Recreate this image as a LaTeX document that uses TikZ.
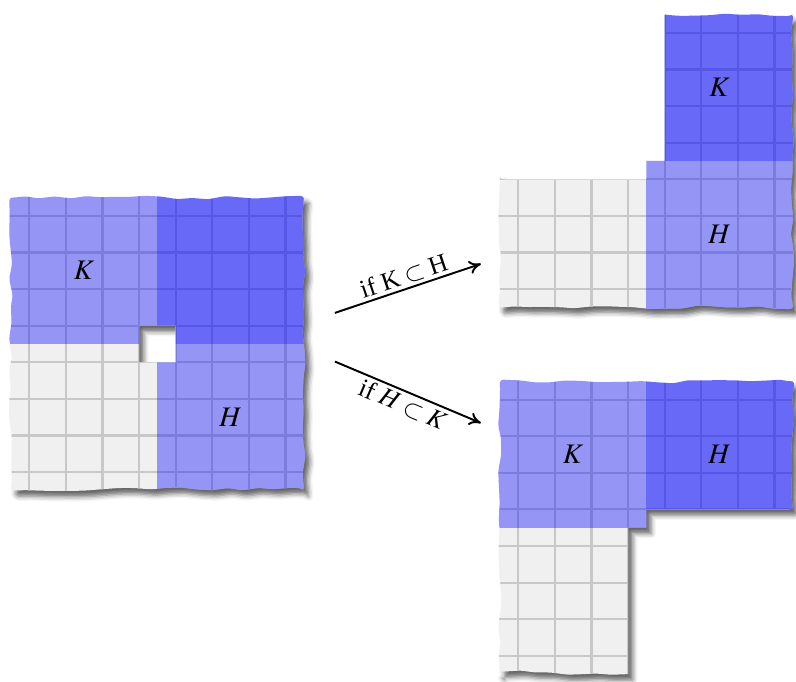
\documentclass[tikz,border=0pt]{standalone}
\usepackage{amsmath,amssymb}
\usepackage{mathptmx}
\usepackage{fontspec}
\setmainfont{Liberation Serif}
\usepackage{xcolor}
\usepackage{tikz}
\usetikzlibrary{arrows.meta, decorations.pathmorphing, shadows.blur}
\definecolor{paper}{RGB}{240,240,240}
\definecolor{gridgray}{RGB}{200,200,200}
\definecolor{setblue}{RGB}{0,0,255}
\tikzset{
  torn/.style={decoration={random steps, segment length=0.42cm, amplitude=0.055cm}},
  sheet fill/.style={fill=paper, rounded corners=2.5pt,
    blur shadow={shadow xshift=0.13cm, shadow yshift=-0.16cm,
      shadow blur radius=0.13cm, shadow opacity=60}},
  grid line/.style={draw=gridgray, line width=1.6pt},
  set fill/.style={fill=setblue, fill opacity=0.375},
  both fill/.style={fill=setblue, fill opacity=0.5625},
  set label/.style={font=\fontsize{22}{25}\selectfont},
  implies/.style={-{To[length=3.2mm, width=3.6mm]}, line width=1.5pt},
  implies label/.style={font=\fontsize{20}{23}\selectfont, sloped},
}
% torn sheet: #1 origin, #2 outline, #3 seed
\newcommand{\tornsheet}[3]{%
  \begin{scope}[shift={#1}, torn]
    \pgfmathsetseed{#3}
    \path[sheet fill] #2;
    \begin{scope}
      \pgfmathsetseed{#3}
      \clip[rounded corners=2.5pt] #2;
      \draw[grid line, shift={(0.5,0.5)}] (-5,-5) grid (4,4);
      \path[set fill] (-4.5,0) rectangle (0,4.5);
      \path[set fill] (0,-4.5) rectangle (4.5,0);
      \path[both fill] (0,0) rectangle (4.5,4.5);
    \end{scope}
  \end{scope}}

\begin{document}
\begin{tikzpicture}
  \useasboundingbox (-4.301,-9.235) rectangle (17.448,9.399);

  % the overlap with the hole
  \tornsheet{(0,0)}{(-4,-4) decorate{-- (4,-4) -- (4,4) -- (-4,4) -- (-4,-4)} -- cycle
    (-0.5,-0.5) [sharp corners] -- (-0.5,0.5) -- (0.5,0.5) -- (0.5,-0.5) -- cycle}{11}
  \node[set label] (kmain) at (-2,2) {$K$};
  \node[set label] (hmain) at (2,-2) {$H$};

  % K inside H
  \tornsheet{(13.36,5)}{(-4,-0.5) [sharp corners] -- (0,-0.5) -- (0,0) -- (0.5,0) -- (0.5,4)
    [rounded corners=2.5pt] decorate{-- (4,4) -- (4,-4) -- (-4,-4) -- (-4,-0.5)} -- cycle}{23}
  \node[set label] (kup) at (15.36,7) {$K$};
  \node[set label] (hup) at (15.36,3) {$H$};

  % H inside K
  \tornsheet{(13.36,-5.02)}{(4,0.5) [sharp corners] -- (0,0.5) -- (0,0) -- (-0.5,0) -- (-0.5,-4)
    [rounded corners=2.5pt] decorate{-- (-4,-4) -- (-4,4) -- (4,4) -- (4,0.5)} -- cycle}{37}
  \node[set label] (kdown) at (11.36,-3.02) {$K$};
  \node[set label] (hdown) at (15.36,-3.02) {$H$};

  % arrows
  \coordinate (upfrom) at (4.85,0.85);
  \coordinate (upto) at (8.84,2.19);
  \coordinate (downfrom) at (4.85,-0.48);
  \coordinate (downto) at (8.84,-2.16);
  \draw[implies] (upfrom) -- node[implies label, above, inner sep=2pt] {if K${}\subset{}$H} (upto);
  \draw[implies] (downfrom) -- node[implies label, below, inner sep=2pt] {if $H\subset K$} (downto);
\end{tikzpicture}
\end{document}
